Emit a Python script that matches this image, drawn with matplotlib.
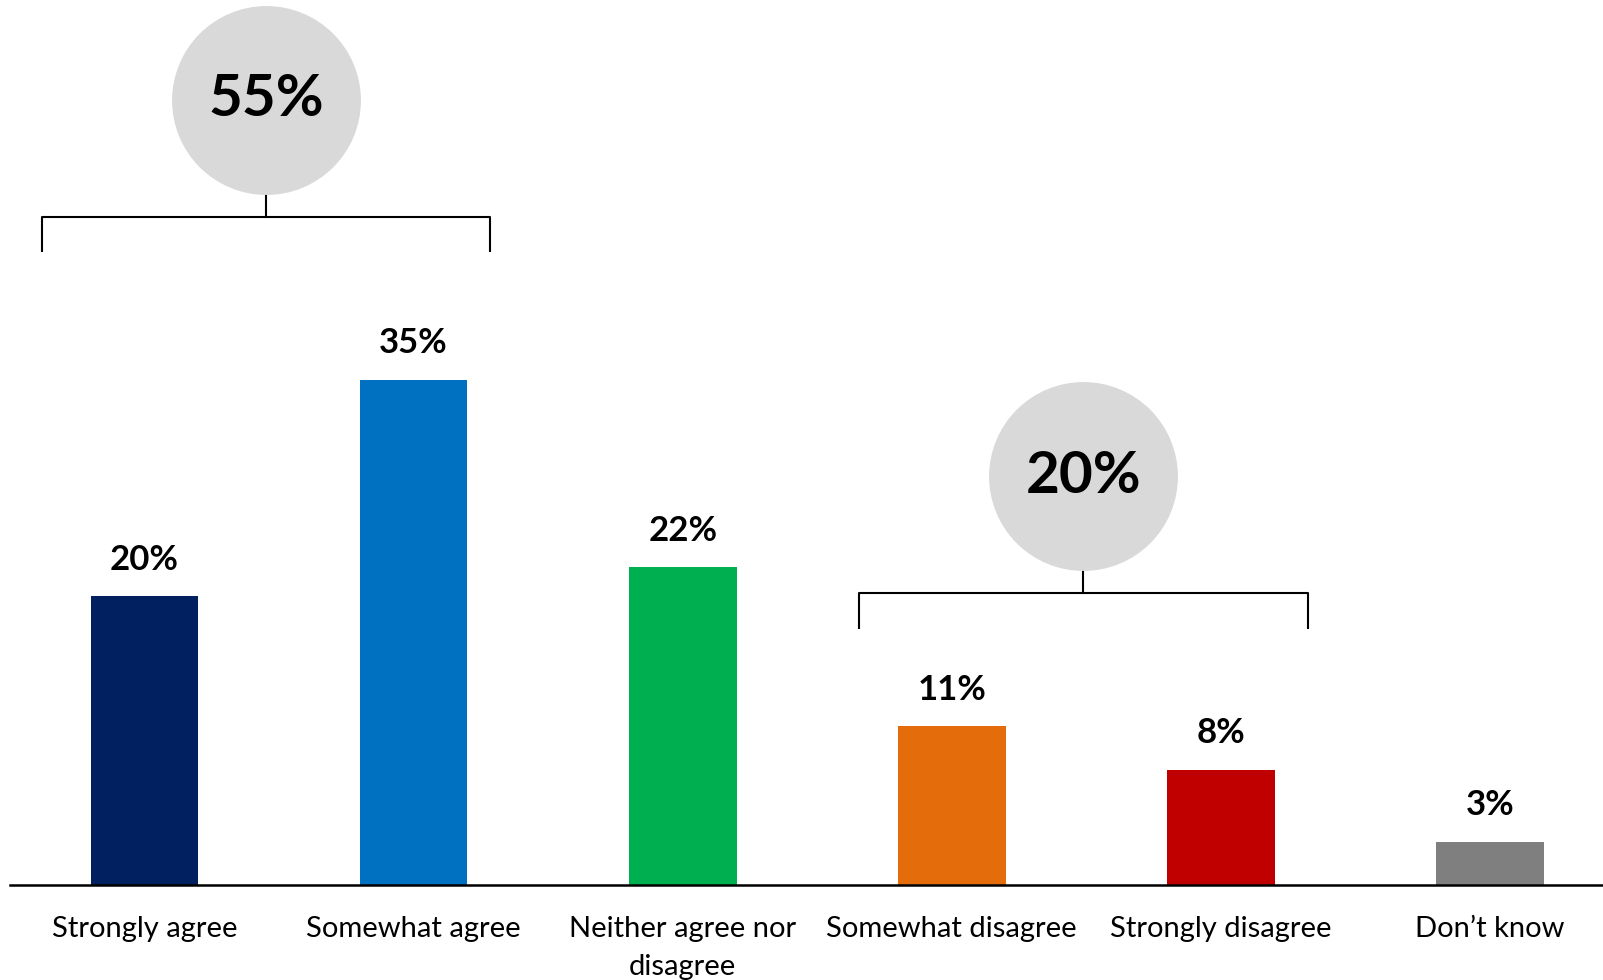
"""
Survey agreement bar chart with net-agree / net-disagree bubbles.
"""

import matplotlib.pyplot as plt

# ── Data ─────────────────────────────────────────────────────────────
categories = ["Strongly agree", "Somewhat agree", "Neither agree nor\ndisagree",
              "Somewhat disagree", "Strongly disagree", "Don\u2019t know"]
values = [20, 35, 22, 11, 8, 3]
bar_colors = ["#002060", "#0070C0", "#00B050", "#E46C0A", "#C00000", "#7F7F7F"]

net_labels = ["55%", "20%"]
net_groups = [(0, 1), (3, 4)]   # bar indices covered by each bracket

# ── Style ────────────────────────────────────────────────────────────
plt.rcParams.update({
    "font.family": ["Lato", "DejaVu Sans"],
    "figure.facecolor": "white",
    "axes.facecolor": "white",
})

W, H, DPI = 1603, 980, 100
fig = plt.figure(figsize=(W / DPI, H / DPI), dpi=DPI)
base_px = 885
ax = fig.add_axes([10 / W, (H - base_px) / H, (W - 10) / W, base_px / H])

x = list(range(len(categories)))
ax.bar(x, values, width=0.4, color=bar_colors)

for xi, v in zip(x, values):
    ax.text(xi, v + 1.4, f"{v}%", ha="center", va="bottom",
            fontsize=25, fontweight="bold", color="black")

ax.set_xlim(-0.5, 5.42)
ax.set_ylim(0, 61.3)

# brackets + bubbles: (left pad, right pad, bracket y, leg drop, stem, bubble y)
bracket_layout = [(0.38, 0.285, 46.25, 2.4, 1.6, 54.4),
                  (0.346, 0.323, 20.2, 2.5, 1.6, 28.3)]
for (i0, i1), lab, (lp, rp, by, drop, stem, cy) in zip(net_groups, net_labels, bracket_layout):
    left, right = i0 - lp, i1 + rp
    mid = (left + right) / 2
    ax.plot([left, left, right, right], [by - drop, by, by, by - drop],
            color="black", lw=1.5, solid_capstyle="butt")
    ax.plot([mid, mid], [by, by + stem], color="black", lw=1.5)
    ax.scatter([mid], [cy], s=136 ** 2, color="#D9D9D9", zorder=3, linewidths=0)
    ax.text(mid, cy, lab, ha="center", va="center", fontsize=42,
            fontweight="bold", color="black", zorder=4)

for s in ["top", "right", "left"]:
    ax.spines[s].set_visible(False)
ax.spines["bottom"].set_linewidth(1.8)
ax.set_yticks([])
ax.set_xticks(x)
ax.set_xticklabels(categories, fontsize=21, linespacing=1.6)
ax.tick_params(axis="x", length=0, pad=22)

fig.savefig("out.png", dpi=DPI)
